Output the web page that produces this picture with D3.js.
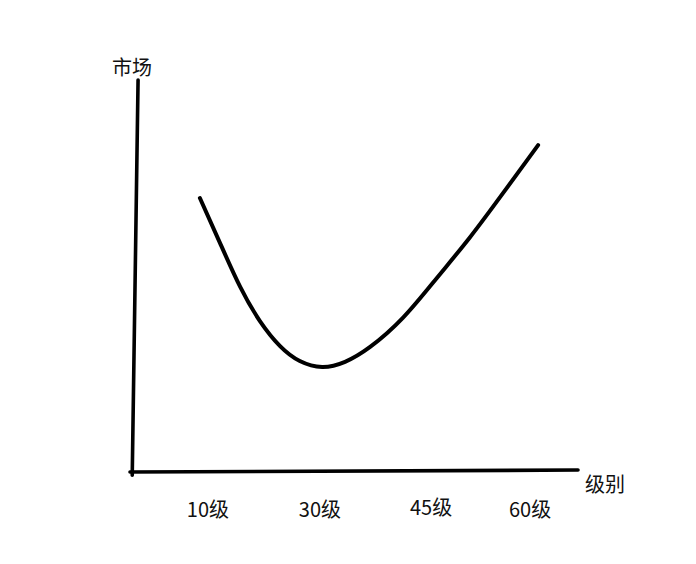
<!DOCTYPE html>
<html>
<head>
<meta charset="utf-8">
<script src="https://cdn.jsdelivr.net/npm/d3@7"></script>
<style>
html,body{margin:0;padding:0;background:#fff;}
svg text{font-family:"Noto Sans CJK SC","Microsoft YaHei",sans-serif;fill:#111;}
</style>
</head>
<body>
<div id="chart"></div>
<script>
// Curve sample (relative units 0-100)
const curveX = [15.6, 20.1, 24.6, 29.0, 33.5, 37.9, 42.9, 48.0, 53.6, 60.9, 68.5, 75.9, 83.3, 91.1];
const curveY = [69.9, 58.4, 47.2, 38.5, 32.1, 28.3, 26.8, 28.1, 31.9, 39.3, 49.5, 59.9, 71.2, 83.4];
const tickLabels = ["10级", "30级", "45级", "60级"];
const tickPos = [17.4, 42.4, 67.2, 89.3];
const tickDy = [0, 0, -2, 0];
const xTitle = "级别";
const yTitle = "市场";

const W = 696, H = 564;
const svg = d3.select("#chart").append("svg").attr("width", W).attr("height", H);

const x = d3.scaleLinear().domain([0, 100]).range([130, 578]);
const y = d3.scaleLinear().domain([0, 100]).range([472, 80]);

// axes (hand-drawn style)
const axisLine = d3.line().x(d => x(d[0])).y(d => y(d[1]));
svg.append("path")
  .attr("d", axisLine([[1.8, 100], [0.5, -0.8]]))
  .attr("stroke", "#000").attr("stroke-width", 3.6).attr("fill", "none").attr("stroke-linecap", "round");
svg.append("path")
  .attr("d", axisLine([[0, 0], [100, 0.5]]))
  .attr("stroke", "#000").attr("stroke-width", 3.6).attr("fill", "none").attr("stroke-linecap", "round");

// curve
const pts = curveX.map((v, i) => [v, curveY[i]]);
const line = d3.line().x(d => x(d[0])).y(d => y(d[1])).curve(d3.curveNatural);
svg.append("path")
  .attr("d", line(pts))
  .attr("stroke", "#000").attr("stroke-width", 4).attr("fill", "none").attr("stroke-linecap", "round");

// tick labels
svg.selectAll("text.tick").data(tickLabels).enter().append("text")
  .attr("class", "tick")
  .attr("x", (d, i) => x(tickPos[i]))
  .attr("y", (d, i) => 517 + tickDy[i])
  .attr("text-anchor", "middle")
  .attr("font-size", 20)
  .text(d => d);

// axis titles
svg.append("text").attr("x", 585).attr("y", 492).attr("font-size", 20).text(xTitle);
svg.append("text").attr("x", 112).attr("y", 75).attr("font-size", 20).text(yTitle);
</script>
</body>
</html>
